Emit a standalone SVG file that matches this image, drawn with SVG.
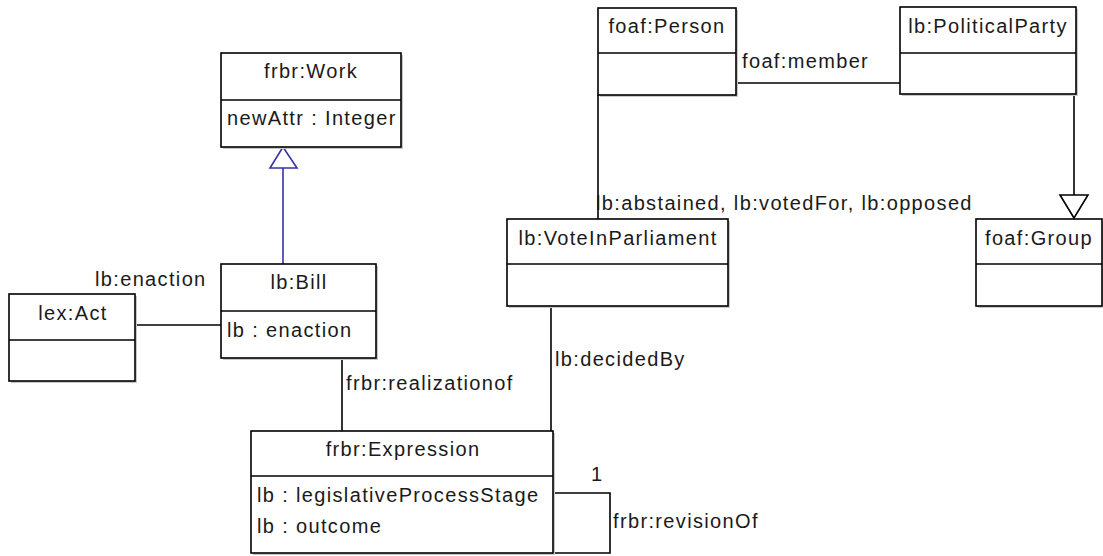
<svg xmlns="http://www.w3.org/2000/svg" width="1103" height="556" viewBox="0 0 1103 556">
  <style>
    text { font-family: "Liberation Sans", Arial, sans-serif; font-size: 20px; letter-spacing: 1.35px; fill: #1a1a1a; }
    .title { text-anchor: middle; }
    .box { fill: #ffffff; stroke: #000000; stroke-width: 1.6; }
    .shadow { fill: #c8c8c8; }
    .div { stroke: #000000; stroke-width: 1.6; }
    .assoc { fill: none; stroke: #000000; stroke-width: 1.6; }
    .gen-blue { fill: none; stroke: #3434a8; stroke-width: 1.6; }
    .head-blue { fill: #ffffff; stroke: #3434a8; stroke-width: 1.6; }
    .head-black { fill: #ffffff; stroke: #000000; stroke-width: 1.6; }
  </style>

  <rect width="1103" height="556" fill="#ffffff"/>

  <!-- associations and generalizations -->
  <g id="connectors">
    <!-- lb:Bill generalizes to frbr:Work -->
    <line class="gen-blue" x1="283" y1="168" x2="283" y2="264"/>
    <polygon class="head-blue" points="283,147 270,168 297,168"/>
    <!-- lex:Act — lb:Bill -->
    <line class="assoc" x1="135" y1="325" x2="221" y2="325"/>
    <!-- lb:Bill — frbr:Expression -->
    <line class="assoc" x1="342" y1="358" x2="342" y2="431"/>
    <!-- lb:VoteInParliament — frbr:Expression -->
    <line class="assoc" x1="551" y1="306" x2="551" y2="431"/>
    <!-- foaf:Person — lb:VoteInParliament -->
    <line class="assoc" x1="598" y1="95" x2="598" y2="219"/>
    <!-- foaf:Person — lb:PoliticalParty -->
    <line class="assoc" x1="736" y1="83" x2="900" y2="83"/>
    <!-- lb:PoliticalParty generalizes to foaf:Group -->
    <line class="assoc" x1="1074" y1="94" x2="1074" y2="195"/>
    <polygon class="head-black" points="1074,218 1060,195 1088,195"/>
    <!-- frbr:Expression self association -->
    <path class="assoc" d="M553 493 H610 V553 H553"/>

    <text x="95" y="286">lb:enaction</text>
    <text x="346" y="390">frbr:realizationof</text>
    <text x="555" y="366">lb:decidedBy</text>
    <text x="596" y="210">lb:abstained, lb:votedFor, lb:opposed</text>
    <text x="742" y="68">foaf:member</text>
    <text x="591" y="481">1</text>
    <text x="613" y="528">frbr:revisionOf</text>
  </g>

  <g id="frbr-work">
    <rect class="shadow" x="223" y="55" width="180" height="94"/>
    <rect class="box" x="221" y="53" width="180" height="94"/>
    <line class="div" x1="221" y1="100" x2="401" y2="100"/>
    <text class="title" x="311" y="78">frbr:Work</text>
    <text x="227" y="125">newAttr : Integer</text>
  </g>

  <g id="lb-bill">
    <rect class="shadow" x="223" y="266" width="155" height="94"/>
    <rect class="box" x="221" y="264" width="155" height="94"/>
    <line class="div" x1="221" y1="311" x2="376" y2="311"/>
    <text class="title" x="299" y="289">lb:Bill</text>
    <text x="227" y="337">lb : enaction</text>
  </g>

  <g id="lex-act">
    <rect class="shadow" x="11" y="296" width="126" height="87"/>
    <rect class="box" x="9" y="294" width="126" height="87"/>
    <line class="div" x1="9" y1="340" x2="135" y2="340"/>
    <text class="title" x="73" y="320">lex:Act</text>
  </g>

  <g id="frbr-expression">
    <rect class="shadow" x="253" y="433" width="302" height="122"/>
    <rect class="box" x="251" y="431" width="302" height="122"/>
    <line class="div" x1="251" y1="476" x2="553" y2="476"/>
    <text class="title" x="403" y="456">frbr:Expression</text>
    <text x="257" y="502">lb : legislativeProcessStage</text>
    <text x="257" y="533">lb : outcome</text>
  </g>

  <g id="lb-vote-in-parliament">
    <rect class="shadow" x="509" y="221" width="221" height="87"/>
    <rect class="box" x="507" y="219" width="221" height="87"/>
    <line class="div" x1="507" y1="264" x2="728" y2="264"/>
    <text class="title" x="618" y="245">lb:VoteInParliament</text>
  </g>

  <g id="foaf-person">
    <rect class="shadow" x="600" y="10" width="138" height="87"/>
    <rect class="box" x="598" y="8" width="138" height="87"/>
    <line class="div" x1="598" y1="53" x2="736" y2="53"/>
    <text class="title" x="667" y="33">foaf:Person</text>
  </g>

  <g id="lb-political-party">
    <rect class="shadow" x="902" y="9" width="176" height="87"/>
    <rect class="box" x="900" y="7" width="176" height="87"/>
    <line class="div" x1="900" y1="53" x2="1076" y2="53"/>
    <text class="title" x="988" y="33">lb:PoliticalParty</text>
  </g>

  <g id="foaf-group">
    <rect class="shadow" x="978" y="221" width="126" height="87"/>
    <rect class="box" x="976" y="219" width="126" height="87"/>
    <line class="div" x1="976" y1="264" x2="1102" y2="264"/>
    <text class="title" x="1039" y="245">foaf:Group</text>
  </g>
</svg>
